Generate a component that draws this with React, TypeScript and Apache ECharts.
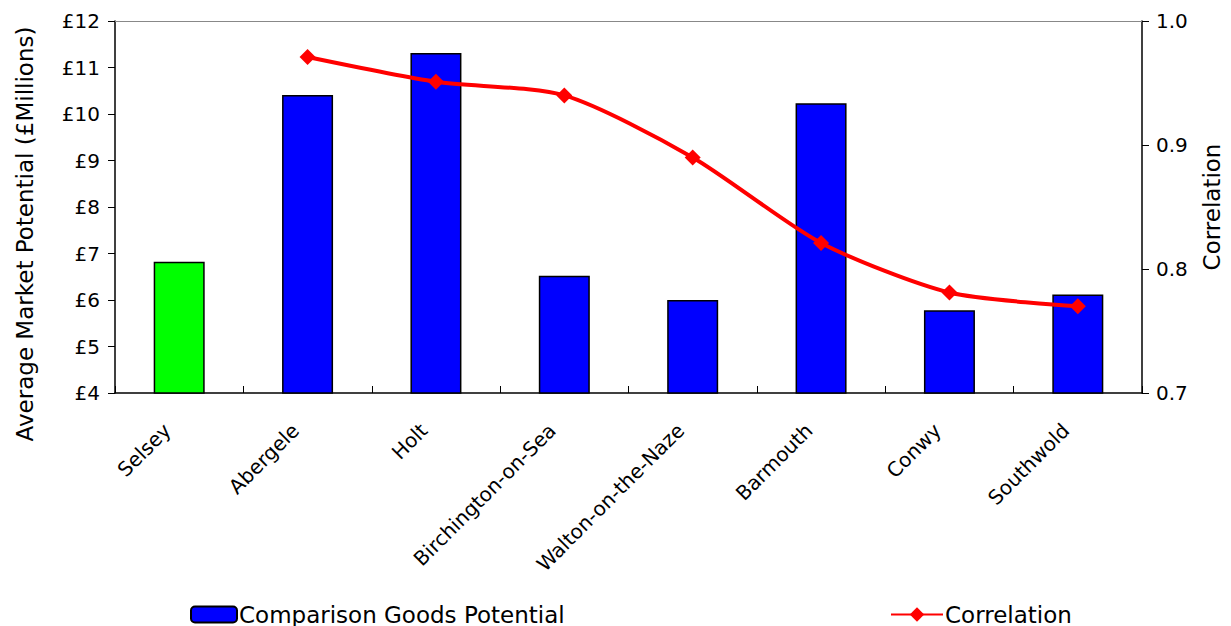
import React, { useEffect, useRef } from "react";
import * as echarts from "echarts";

const categories = ["Selsey", "Abergele", "Holt", "Birchington-on-Sea", "Walton-on-the-Naze", "Barmouth", "Conwy", "Southwold"];
const potential = [6.82, 10.41, 11.31, 6.52, 6.0, 10.23, 5.78, 6.12];
const correlation: (number | null)[] = [null, 0.971, 0.951, 0.94, 0.89, 0.821, 0.781, 0.77];
const barColors = ["#00ff00", "#0000ff", "#0000ff", "#0000ff", "#0000ff", "#0000ff", "#0000ff", "#0000ff"];

const FONT = "DejaVu Sans";

export default function App() {
  const ref = useRef<HTMLDivElement>(null);
  useEffect(() => {
    const chart = echarts.init(ref.current!, null, { renderer: "svg" });
    chart.setOption({
      animation: false,
      backgroundColor: "#ffffff",
      textStyle: { fontFamily: FONT, color: "#000" },
      grid: { left: 115, right: 89, top: 21, bottom: 233, containLabel: false, outerBoundsMode: "none" },
      legend: [
        {
          data: ["Comparison Goods Potential"],
          left: 190,
          top: 603,
          padding: 0,
          itemWidth: 46,
          itemHeight: 16,
          itemGap: 6,
          textStyle: { fontFamily: FONT, fontSize: 23, color: "#000", padding: [0, 0, 0, -3] },
        },
        {
          data: ["Correlation"],
          left: 890,
          top: 603,
          padding: 0,
          itemWidth: 52,
          itemHeight: 18,
          textStyle: { fontFamily: FONT, fontSize: 23, color: "#000", padding: [0, 0, 0, -3] },
        },
      ],
      xAxis: [
        {
          type: "category",
          data: categories,
          boundaryGap: true,
          axisLine: { lineStyle: { color: "#000", width: 1.5 } },
          axisTick: { show: true, inside: true, length: 7, lineStyle: { color: "#000" } },
          axisLabel: {
            rotate: 45,
            interval: 0,
            fontFamily: FONT,
            fontSize: 20,
            color: "#000",
            margin: 22,
            padding: [0, 17, 0, 0],
          },
        },
        {
          type: "category",
          data: categories,
          position: "top",
          axisLine: { show: true, lineStyle: { color: "#888", width: 1 } },
          axisTick: { show: false },
          axisLabel: { show: false },
        },
      ],
      yAxis: [
        {
          type: "value",
          min: 4,
          max: 12,
          interval: 1,
          name: "Average Market Potential (£Millions)",
          nameLocation: "middle",
          nameRotate: 90,
          nameGap: 79,
          nameTextStyle: { fontFamily: FONT, fontSize: 23, color: "#000", padding: [0, 54, 0, 0] },
          axisLine: { show: true, lineStyle: { color: "#000", width: 1.5 } },
          axisTick: { show: true, length: 7, lineStyle: { color: "#000" } },
          axisLabel: { formatter: "£{value}", fontFamily: FONT, fontSize: 20, color: "#000", margin: 15 },
          splitLine: { show: false },
        },
        {
          type: "value",
          min: 0.7,
          max: 1.0,
          interval: 0.1,
          name: "Correlation",
          nameLocation: "middle",
          nameRotate: 90,
          nameGap: 58,
          nameTextStyle: { fontFamily: FONT, fontSize: 23, color: "#000" },
          axisLine: { show: true, lineStyle: { color: "#000", width: 1.5 } },
          axisTick: { show: true, length: 7, lineStyle: { color: "#000" } },
          axisLabel: { formatter: (v: number) => v.toFixed(1), fontFamily: FONT, fontSize: 20, color: "#000", margin: 14 },
          splitLine: { show: false },
        },
      ],
      series: [
        {
          name: "Comparison Goods Potential",
          type: "bar",
          yAxisIndex: 0,
          barWidth: 51,
          data: potential.map((v, i) => ({ value: v, itemStyle: { color: barColors[i] } })),
          itemStyle: { color: "#0000ff", borderColor: "#000", borderWidth: 1.5 },
        },
        {
          name: "Correlation",
          type: "line",
          yAxisIndex: 1,
          smooth: 0.25,
          data: correlation,
          symbol: "diamond",
          symbolSize: 16,
          lineStyle: { color: "#ff0000", width: 4 },
          itemStyle: { color: "#ff0000" },
        },
      ],
    });
    return () => chart.dispose();
  }, []);
  return <div ref={ref} style={{ position: "fixed", left: 0, top: 0, width: 1231, height: 626 }} />;
}
